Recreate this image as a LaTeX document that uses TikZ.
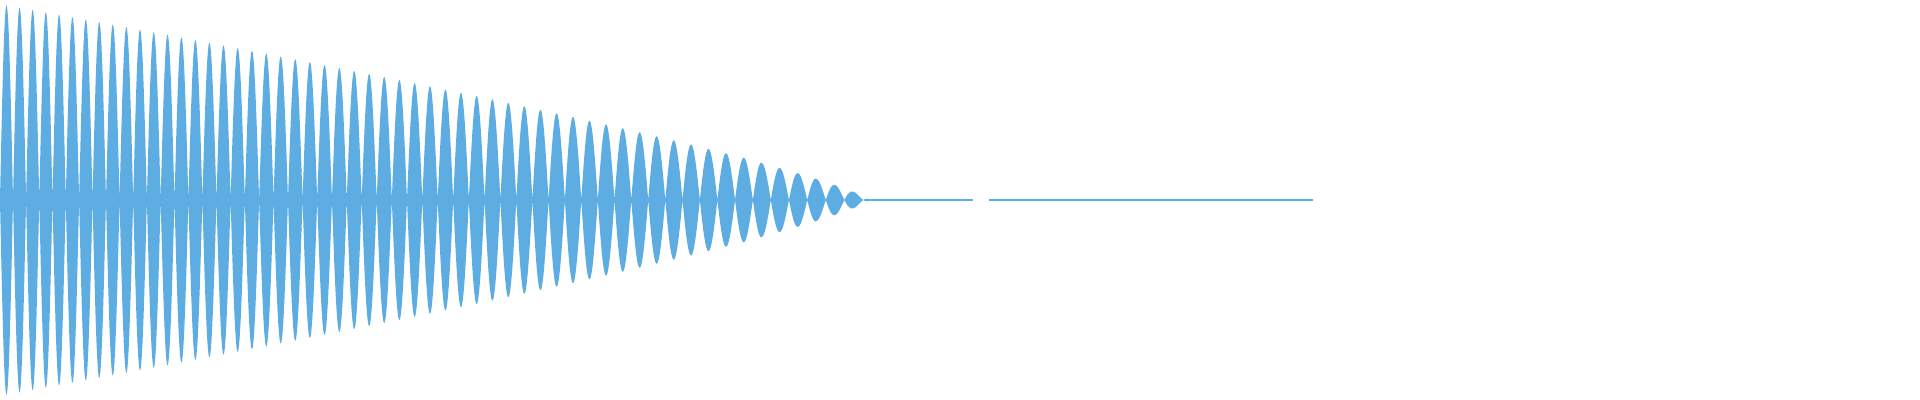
\documentclass[tikz,border=0pt]{standalone}
\usepackage{tikz}
\definecolor{wave}{RGB}{93,173,226}

\begin{document}
\begin{tikzpicture}[x=0.01cm,y=0.01cm]
  \tikzstyle{signal}=[fill=wave,draw=none]
  \tikzstyle{tail}=[draw=wave,line width=0.02cm]
  \useasboundingbox (0,-200) rectangle (1920,200);
  % decaying chirp, drawn as a filled |sin| envelope
  \fill[signal] plot[domain=0:869,samples=2600]
      (\x,{196*pow(1-\x/870,0.8)*abs(sin(13.85*\x-0.002513*\x*\x))})
    -- plot[domain=869:0,samples=2600]
      (\x,{-196*pow(1-\x/870,0.8)*abs(sin(13.85*\x-0.002513*\x*\x))})
    -- cycle;
  % silent tail
  \coordinate (t0) at (869,0);
  \coordinate (t1) at (973,0);
  \coordinate (t2) at (989,0);
  \coordinate (t3) at (1313,0);
  \draw[tail] (t0) -- (t1);
  \draw[tail] (t2) -- (t3);
\end{tikzpicture}
\end{document}
